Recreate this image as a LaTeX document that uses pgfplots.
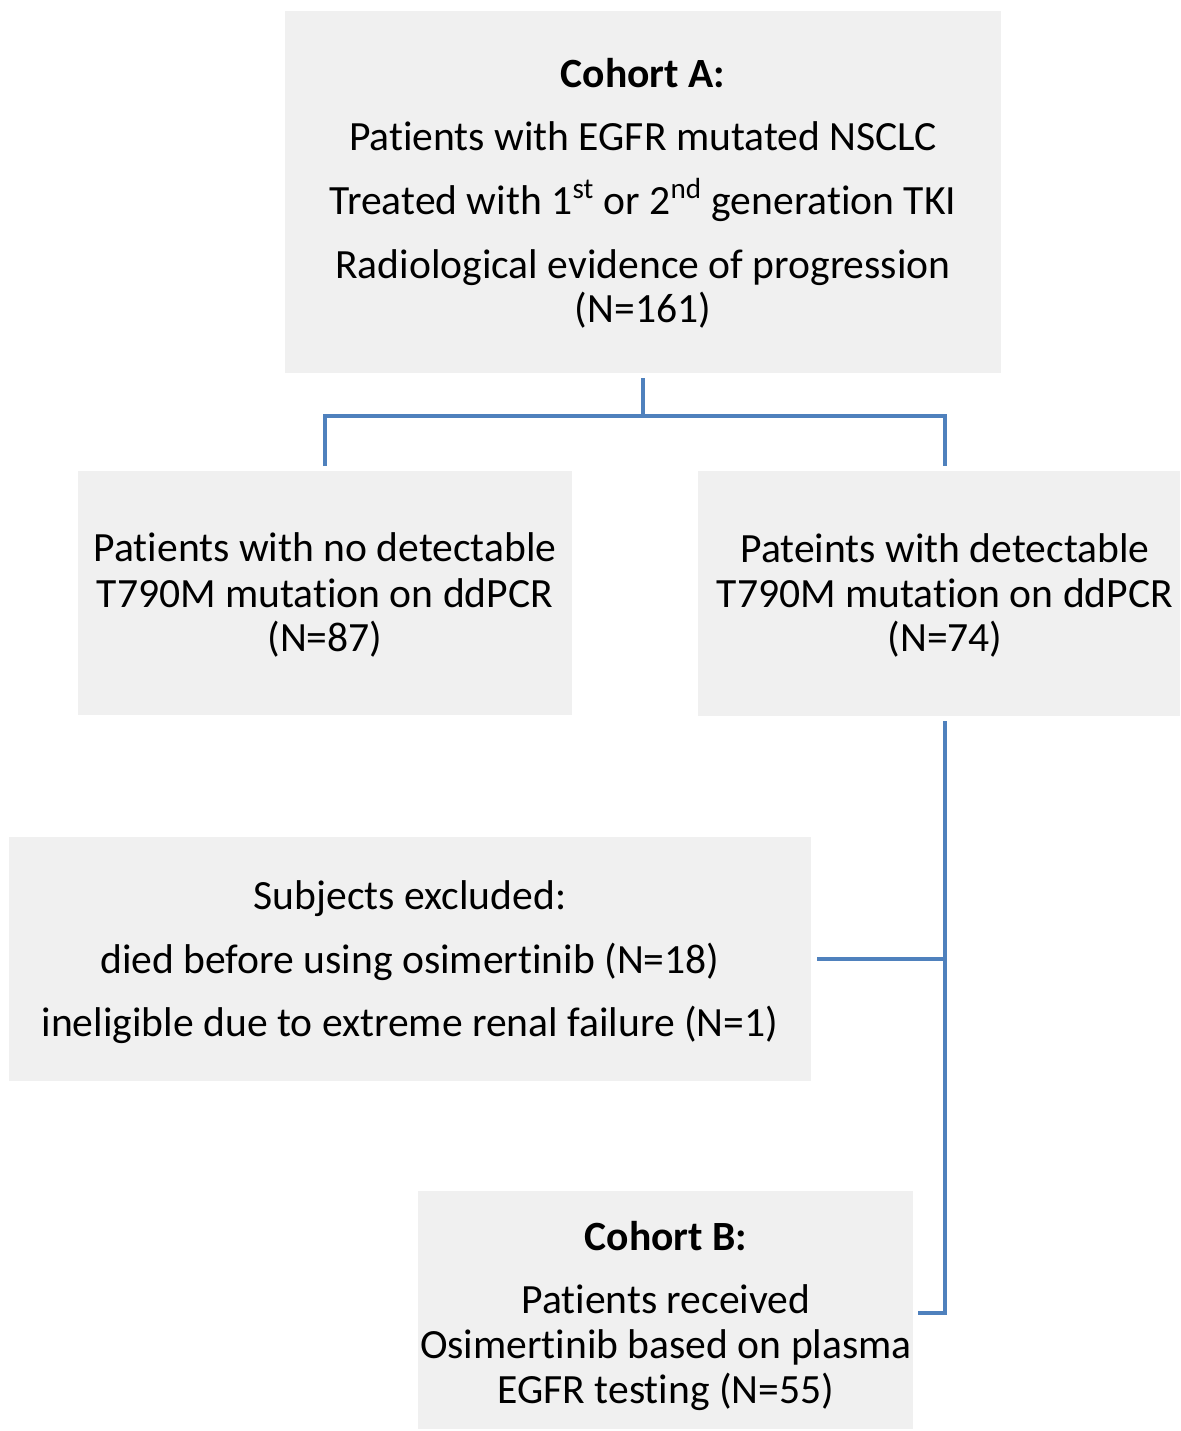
\documentclass[border=0pt]{standalone}
\usepackage{pgfplots}
\pgfplotsset{compat=1.18}
\usepackage{fontspec}
\setmainfont{Carlito}[Ligatures=NoCommon]
\definecolor{boxgray}{HTML}{F0F0F0}
\definecolor{linkblue}{HTML}{4F81BD}
\tikzset{lbl/.style={font=\fontsize{20.8}{25}\selectfont, inner sep=0pt, anchor=base}}
\begin{document}
\begin{tikzpicture}
\begin{axis}[
    width=590pt, height=715.5pt, scale only axis,
    xmin=0, xmax=1180, ymin=0, ymax=1431,
    y dir=reverse, hide axis, clip=false,
]
% frame so the page keeps the full size
\addplot[draw=none] coordinates {(0,0) (1180,1431)};

% boxes
\addplot[fill=boxgray, draw=none] coordinates {(285,11) (1001,11) (1001,373) (285,373)} --cycle;
\addplot[fill=boxgray, draw=none] coordinates {(78,471) (572,471) (572,715) (78,715)} --cycle;
\addplot[fill=boxgray, draw=none] coordinates {(698,471) (1180,471) (1180,716) (698,716)} --cycle;
\addplot[fill=boxgray, draw=none] coordinates {(9,837) (811,837) (811,1081) (9,1081)} --cycle;
\addplot[fill=boxgray, draw=none] coordinates {(418,1191) (913,1191) (913,1429) (418,1429)} --cycle;

% connectors
\addplot[linkblue, line width=1.8pt] coordinates {(643,378) (643,416)};
\addplot[linkblue, line width=1.8pt] coordinates {(325,466) (325,416) (945,416) (945,466)};
\addplot[linkblue, line width=1.8pt] coordinates {(945,721) (945,1313) (918,1313)};
\addplot[linkblue, line width=1.8pt] coordinates {(817,959) (945,959)};

% cohort A
\node[lbl] at (axis cs:643,87) {\textbf{Cohort A:}};
\node[lbl] at (axis cs:643,150) {Patients with EGFR mutated NSCLC};
\node[lbl] at (axis cs:643,214) {Treated with 1\textsuperscript{st} or 2\textsuperscript{nd} generation TKI};
\node[lbl] at (axis cs:643,278) {Radiological evidence of progression};
\node[lbl] at (axis cs:643,322) {(N=161)};

% T790M negative / positive
\node[lbl] at (axis cs:325,561) {Patients with no detectable};
\node[lbl] at (axis cs:325,607) {T790M mutation on ddPCR};
\node[lbl] at (axis cs:325,651) {(N=87)};
\node[lbl] at (axis cs:945,562) {Pateints with detectable};
\node[lbl] at (axis cs:945,607) {T790M mutation on ddPCR};
\node[lbl] at (axis cs:945,651) {(N=74)};

% excluded
\node[lbl] at (axis cs:410,909) {Subjects excluded:};
\node[lbl] at (axis cs:410,973) {died before using osimertinib (N=18)};
\node[lbl] at (axis cs:410,1036) {ineligible due to extreme renal failure (N=1)};

% cohort B
\node[lbl] at (axis cs:666,1250) {\textbf{Cohort B:}};
\node[lbl] at (axis cs:666,1313) {Patients received};
\node[lbl] at (axis cs:666,1358) {Osimertinib based on plasma};
\node[lbl] at (axis cs:666,1403) {EGFR testing (N=55)};
\end{axis}
\end{tikzpicture}
\end{document}
